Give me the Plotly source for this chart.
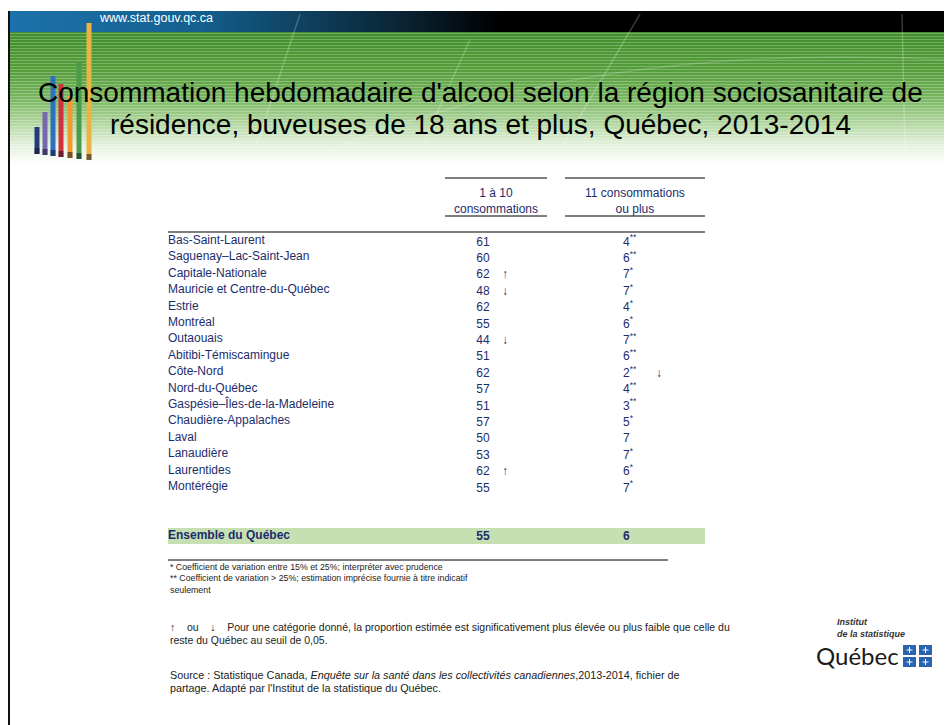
import plotly.graph_objects as go

# page body has an 8px margin: figure is sized so it fits the 952x725 window,
# and axis ranges are set so that data units equal window pixels.
FIG_W, FIG_H = 944, 717
X0, Y0 = 8, 8

# ---------------- data ----------------
regions = [
    "Bas-Saint-Laurent", "Saguenay–Lac-Saint-Jean", "Capitale-Nationale",
    "Mauricie et Centre-du-Québec", "Estrie", "Montréal", "Outaouais",
    "Abitibi-Témiscamingue", "Côte-Nord", "Nord-du-Québec",
    "Gaspésie–Îles-de-la-Madeleine", "Chaudière-Appalaches", "Laval",
    "Lanaudière", "Laurentides", "Montérégie",
]
val_1_10 = [61, 60, 62, 48, 62, 55, 44, 51, 62, 57, 51, 57, 50, 53, 62, 55]
sig_1_10 = ["", "", "↑", "↓", "", "", "↓", "", "", "", "", "", "", "", "↑", ""]
val_11_plus = [4, 6, 7, 7, 4, 6, 7, 6, 2, 4, 3, 5, 7, 7, 6, 7]
cv_11_plus = ["**", "**", "*", "*", "*", "*", "**", "**", "**", "**", "**", "*", "", "*", "*", "*"]
sig_11_plus = ["", "", "", "", "", "", "", "", "↓", "", "", "", "", "", "", ""]
total_label = "Ensemble du Québec"
total_1_10 = 55
total_11_plus = 6
col_headers = ["1 à 10<br>consommations", "11 consommations<br>ou plus"]

title_lines = ["Consommation hebdomadaire d'alcool selon la région sociosanitaire de",
               "résidence, buveuses de 18 ans et plus, Québec, 2013-2014"]
url_text = "www.stat.gouv.qc.ca"
note_cv = ["* Coefficient de variation entre 15% et 25%; interpréter avec prudence",
           "** Coefficient de variation > 25%; estimation imprécise fournie à titre indicatif",
           "seulement"]
NB = "\u00a0"
note_sig = ["↑" + NB * 4 + "ou" + NB * 4 + "↓" + NB * 4 +
            "Pour une catégorie donné, la proportion estimée est significativement plus élevée ou plus faible que celle du",
            "reste du Québec au seuil de 0,05."]
note_src = ["Source : Statistique Canada, <i>Enquête sur la santé dans les collectivités canadiennes</i>,2013-2014, fichier de",
            "partage. Adapté par l'Institut de la statistique du Québec."]

# ---------------- style / layout constants ----------------
FONT = "Liberation Sans, Arial, sans-serif"
NAVY = "#1b2d6b"
TXT = 12
X_LABEL, X_C1, X_C1A, X_C2, X_C2A = 168, 483, 505, 623, 659
X_L, X_R = 168, 705
ROW0, DROW = 241, 16.4
TOTAL_Y = 536
RIGHT = X0 + FIG_W

fig = go.Figure()

shapes = []

# green header: vertical gradient made of thin strips
stops = [(32, (66, 142, 45)), (70, (84, 157, 58)), (100, (124, 184, 100)),
         (125, (182, 217, 166)), (145, (228, 241, 222)), (165, (255, 255, 255))]
def col_at(y):
    for (ya, ca), (yb, cb) in zip(stops[:-1], stops[1:]):
        if ya <= y <= yb:
            t = (y - ya) / (yb - ya)
            return "rgb(%d,%d,%d)" % tuple(round(a + (b - a) * t) for a, b in zip(ca, cb))
    return "white"
y = 32.0
while y < 165:
    shapes.append(dict(type="rect", xref="x", yref="y", x0=X0, x1=RIGHT, y0=y, y1=y + 1.6,
                       fillcolor=col_at(y + 0.75), line=dict(width=0), layer="below"))
    y += 1.5

# top dark band: horizontal gradient blue -> black
fig.add_trace(go.Scatter(
    x=[X0, RIGHT, RIGHT, X0, X0], y=[11, 11, 32, 32, 11], mode="none", fill="toself",
    fillgradient=dict(type="horizontal",
                      colorscale=[[0, "#1d72ab"], [0.2, "#14608f"], [0.42, "#0a2333"],
                                  [0.52, "#000000"], [1, "#000000"]]),
    hoverinfo="skip", showlegend=False))

# faint decorative lines in header
for (x0, y0, x1, y1) in [(902, 14, 905, 150), (255, 150, 300, 14), (560, 150, 640, 14),
                         (420, 150, 470, 40)]:
    shapes.append(dict(type="line", xref="x", yref="y", x0=x0, y0=y0, x1=x1, y1=y1,
                       line=dict(color="rgba(255,255,255,0.22)", width=1.5)))
shapes.append(dict(type="path", xref="x", yref="y", path="M 330 150 Q 600 40 952 60",
                   line=dict(color="rgba(255,255,255,0.18)", width=1.5)))

# logo bars (top-left)
bars = [(37, 127, 154, "#243a7a"), (45, 112, 155, "#7768ad"), (53, 76, 156, "#2e6fc2"),
        (61, 84, 157, "#d2303c"), (70, 96, 158, "#f29a2e"), (79, 61, 159, "#4d9b48"),
        (89, 23, 160, "#e9b443")]
for bx, top, bot, c in bars:
    shapes.append(dict(type="line", xref="x", yref="y", x0=bx, x1=bx, y0=top, y1=bot,
                       line=dict(color=c, width=5)))
    shapes.append(dict(type="line", xref="x", yref="y", x0=bx, x1=bx, y0=bot - 6, y1=bot,
                       line=dict(color="rgba(20,20,40,0.55)", width=5)))

# slide left border
shapes.append(dict(type="line", xref="x", yref="y", x0=X0 + 1, x1=X0 + 1, y0=11, y1=X0 + FIG_H,
                   line=dict(color="#111111", width=2)))

# table rules
for (a, b) in [(445, 547), (565, X_R)]:
    for yy in (178, 216):
        shapes.append(dict(type="line", xref="x", yref="y", x0=a, x1=b, y0=yy, y1=yy,
                           line=dict(color="#000", width=1.2)))
shapes.append(dict(type="line", xref="x", yref="y", x0=X_L, x1=X_R, y0=232, y1=232,
                   line=dict(color="#000", width=1.2)))
shapes.append(dict(type="rect", xref="x", yref="y", x0=X_L, x1=X_R, y0=528, y1=544,
                   fillcolor="#c6e0b4", line=dict(width=0), layer="below"))
shapes.append(dict(type="line", xref="x", yref="y", x0=X_L, x1=668, y0=560, y1=560,
                   line=dict(color="#000", width=1)))

# Quebec flags (logo)
for fx, fy in [(903, 645), (919, 645), (903, 657), (919, 657)]:
    shapes.append(dict(type="rect", xref="x", yref="y", x0=fx, x1=fx + 13, y0=fy, y1=fy + 10,
                       fillcolor="#2a63b0", line=dict(width=0)))
    shapes.append(dict(type="line", xref="x", yref="y", x0=fx + 6.5, x1=fx + 6.5, y0=fy + 2, y1=fy + 8,
                       line=dict(color="white", width=1)))
    shapes.append(dict(type="line", xref="x", yref="y", x0=fx + 3.5, x1=fx + 9.5, y0=fy + 5, y1=fy + 5,
                       line=dict(color="white", width=1)))

# ---------------- table text ----------------
rows_y = [ROW0 + i * DROW for i in range(len(regions))]
num_y = [v + 1.5 for v in rows_y]
tf = dict(family=FONT, size=TXT, color=NAVY)

def text_trace(xs, ys, texts, pos, font):
    return go.Scatter(x=xs, y=ys, text=texts, mode="text", textposition=pos,
                      textfont=font, hoverinfo="skip", showlegend=False, cliponaxis=False)

fig.add_trace(text_trace([X_LABEL] * len(regions), rows_y, regions, "middle right", tf))
fig.add_trace(text_trace([X_C1] * len(regions), num_y, [str(v) for v in val_1_10], "middle center", tf))
fig.add_trace(text_trace([X_C1A] * len(regions), num_y, sig_1_10, "middle center", tf))
fig.add_trace(text_trace([X_C2] * len(regions), num_y,
                         [f"{v}<sup>{c}</sup>" if c else str(v) for v, c in zip(val_11_plus, cv_11_plus)],
                         "middle right", tf))
fig.add_trace(text_trace([X_C2A] * len(regions), num_y, sig_11_plus, "middle center", tf))

bf = dict(family=FONT, size=TXT, color=NAVY, weight="bold")
fig.add_trace(text_trace([X_LABEL], [TOTAL_Y], [f"<b>{total_label}</b>"], "middle right", bf))
fig.add_trace(text_trace([X_C1], [TOTAL_Y + 1], [f"<b>{total_1_10}</b>"], "middle center", bf))
fig.add_trace(text_trace([X_C2], [TOTAL_Y + 1], [f"<b>{total_11_plus}</b>"], "middle right", bf))

# ---------------- annotations ----------------
ann = []
def A(x, y, text, size, color="#000", xanchor="left", align="left", family=FONT):
    ann.append(dict(x=x, y=y, xref="x", yref="y", text=text, showarrow=False,
                    xanchor=xanchor, yanchor="middle", align=align,
                    font=dict(family=family, size=size, color=color)))

A(97, 18, url_text, 12.5, color="#ffffff")
for i, t in enumerate(title_lines):
    A(480, 92 + 32 * i, t, 28, color="#000000", xanchor="center", align="center")
A(496, 200.5, col_headers[0], TXT, color=NAVY, xanchor="center", align="center")
A(635, 200.5, col_headers[1], TXT, color=NAVY, xanchor="center", align="center")
for i, t in enumerate(note_cv):
    A(X_L, 567 + i * 11.3, t, 8.8, color="#222222")
for i, t in enumerate(note_sig):
    A(X_L, 627 + i * 13, t, 10.5, color="#222222")
for i, t in enumerate(note_src):
    A(X_L, 675 + i * 13, t, 10.8, color="#222222")
A(835, 622, "<b><i>Institut</i></b>", 9, color="#333333")
A(835, 634, "<b><i>de la statistique</i></b>", 9, color="#333333")
A(814, 655, "Québec", 24, color="#1a1a1a", family="Lato, Open Sans, sans-serif")

fig.update_layout(
    width=FIG_W, height=FIG_H, margin=dict(l=0, r=0, t=0, b=0),
    paper_bgcolor="white", plot_bgcolor="white",
    xaxis=dict(range=[X0, X0 + FIG_W], visible=False, fixedrange=True),
    yaxis=dict(range=[Y0 + FIG_H, Y0], visible=False, fixedrange=True),
    shapes=shapes, annotations=ann,
)
fig.write_html("out.html")
